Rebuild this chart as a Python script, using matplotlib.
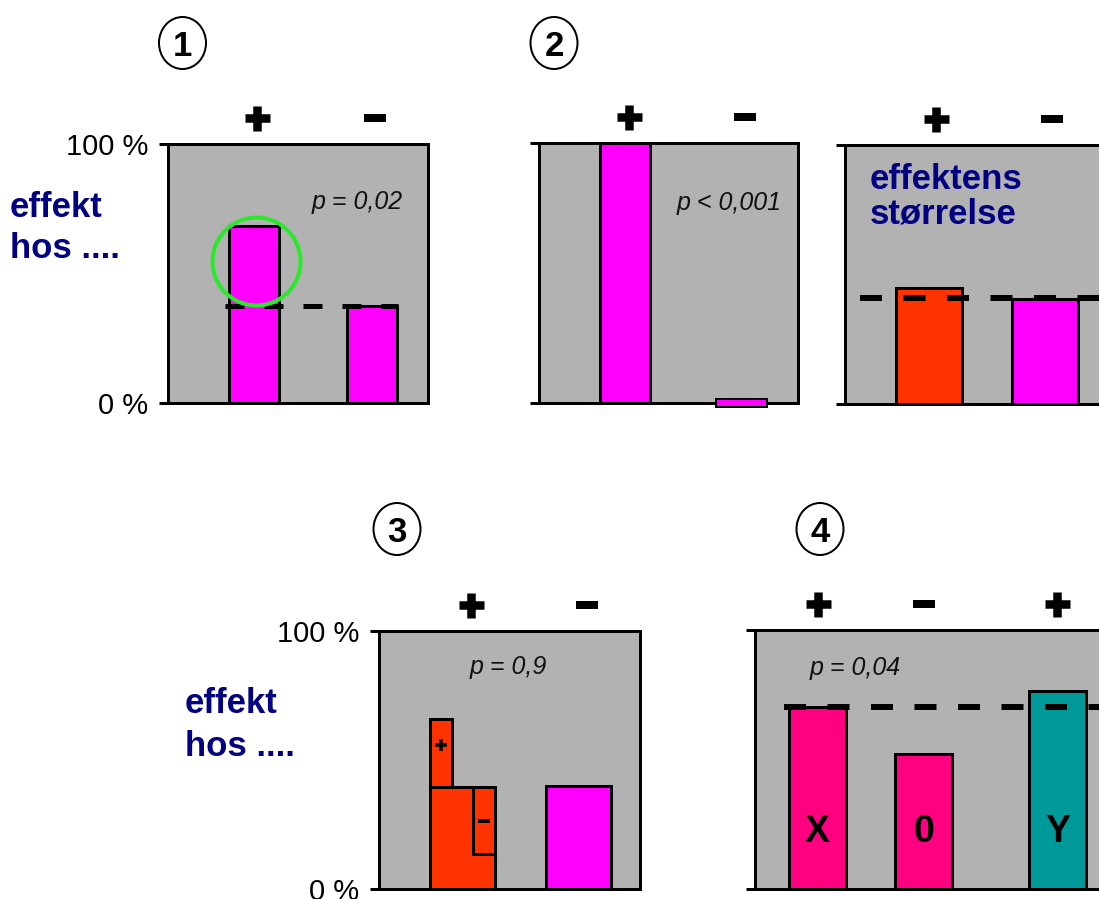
import matplotlib
matplotlib.use("Agg")
import matplotlib.pyplot as plt
from matplotlib.patches import Ellipse
from matplotlib.transforms import offset_copy

# --- data ------------------------------------------------------------
SIGNS = ["+", "-"]

P1_VALUES = [68.3, 37.5]
P1_REF = 37.5
P1_CIRCLE = 55
P1_P = "p = 0,02"

P2A_VALUES = [100, 1.5]
P2A_P = "p < 0,001"

P2B_VALUES = [44.8, 40.5]
P2B_REF = 41

P3_BASE = 39.5
P3_PLUS_TOP = 66
P3_MINUS_BOTTOM = 13.5
P3_OTHER = 40
P3_P = "p = 0,9"

P4_LABELS = ["X", "0", "Y"]
P4_SIGNS = ["+", "-", "+"]
P4_VALUES = [70.3, 52, 76.5]
P4_REF = 70.3
P4_P = "p = 0,04"

NUMBERS = ["1", "2", "3", "4"]
Y_LABELS = ["0 %", "100 %"]

# --- style -----------------------------------------------------------
GREY = "#b2b2b2"
MAGENTA = "#ff00ff"
ORANGE = "#ff3300"
PINK = "#ff0080"
TEAL = "#009999"
NAVY = "#000080"
GREEN = "#2ae82a"

W, H = 1099, 899
PT = 0.72  # points per pixel at dpi 100

plt.rcParams["font.family"] = ["Liberation Sans", "DejaVu Sans"]
plt.rcParams["lines.scale_dashes"] = False

fig = plt.figure(figsize=(W / 100, H / 100), dpi=100)


def fy(y):
    return 1 - y / H


def panel(left, top, right, bottom, xlim, labels=False):
    ax = fig.add_axes([left / W, 1 - bottom / H, (right - left) / W, (bottom - top) / H])
    ax.set_facecolor(GREY)
    ax.set_ylim(0, 100)
    ax.set_xlim(*xlim)
    for s in ax.spines.values():
        s.set_linewidth(3 * PT)
        s.set_color("black")
    ax.set_xticks([])
    ax.set_yticks([0, 100])
    ax.set_yticklabels(Y_LABELS if labels else ["", ""])
    ax.tick_params(axis="y", length=9 * PT, width=3 * PT, pad=8, labelsize=21)
    return ax


def bars(ax, xs, values, width, colors, lw=3, zorder=2, **kw):
    ax.bar(xs, values, width=width, color=colors, edgecolor="black",
           linewidth=lw * PT, zorder=zorder, clip_on=False, **kw)


def dashed(ax, y, x0, x1, on=22, off=21.5, lw=6):
    ax.plot([x0, x1], [y, y], color="black", lw=lw * PT,
            dashes=(on * PT, off * PT), dash_capstyle="butt", zorder=3)


def header(ax, xs, signs, dx=0, y=1.1):
    tr = offset_copy(ax.get_xaxis_transform(), fig=fig, x=dx, y=0, units="dots")
    for x, s in zip(xs, signs):
        if s == "+":
            ax.plot(x, y, marker="+", ms=25 * PT, mew=8.5 * PT, color="black",
                    transform=tr, clip_on=False)
        else:
            ax.plot(x, y, marker="_", ms=22 * PT, mew=8 * PT, color="black",
                    transform=tr, clip_on=False)


def circled(x, y, s):
    fig.add_artist(Ellipse((x / W, fy(y)), 47 / W, 52 / H, transform=fig.transFigure,
                           fill=False, edgecolor="black", lw=2 * PT))
    fig.text(x / W, fy(y + 13), s, ha="center", va="baseline",
             fontsize=25, fontweight="bold")


def navy_text(x, y, s):
    fig.text(x / W, fy(y), s, ha="left", va="baseline", fontsize=25,
             fontweight="bold", color=NAVY)


def p_text(x, y, s, ha):
    fig.text(x / W, fy(y), s, ha=ha, va="baseline", fontsize=18,
             style="italic", color="#111111")


# --- panel 1 ---------------------------------------------------------
ax1 = panel(168, 144, 428, 403, (-0.729, 1.475), labels=True)
bars(ax1, range(2), P1_VALUES, 0.424, MAGENTA)
dashed(ax1, P1_REF, -0.246, 1.22, on=19, off=20, lw=5)
header(ax1, range(2), SIGNS, dx=3)
ax1.plot(0, P1_CIRCLE, "o", ms=88 * PT, mfc="none", mec=GREEN, mew=4 * PT,
         zorder=4, clip_on=False,
         transform=offset_copy(ax1.transData, fig=fig, x=2, y=0, units="dots"))

# --- panel 2a --------------------------------------------------------
ax2 = panel(539, 143, 798, 403, (-0.738, 1.485))
bars(ax2, [0], P2A_VALUES[:1], 0.43, MAGENTA)
# the tiny bar straddles the base line
bars(ax2, [1], [2 * P2A_VALUES[1]], 0.43, MAGENTA, lw=2, zorder=4,
     bottom=-P2A_VALUES[1])
header(ax2, range(2), SIGNS, dx=4)

# --- panel 2b --------------------------------------------------------
ax2b = panel(845, 145, 1106, 404, (-0.724, 1.526))
bars(ax2b, range(2), P2B_VALUES, 0.57, [ORANGE, MAGENTA])
dashed(ax2b, P2B_REF, -0.595, 2.0)
header(ax2b, range(2), SIGNS, dx=7.5)

# --- panel 3 ---------------------------------------------------------
ax3 = panel(379, 631, 640, 889, (-0.717, 1.524), labels=True)
w3, sub = 0.558, 0.19
bars(ax3, range(2), [P3_BASE, P3_OTHER], w3, [ORANGE, MAGENTA])
bars(ax3, [-w3 / 2], [P3_PLUS_TOP - P3_BASE], sub, ORANGE,
     bottom=P3_BASE, align="edge")
bars(ax3, [w3 / 2 - sub], [P3_BASE - P3_MINUS_BOTTOM], sub, ORANGE,
     bottom=P3_MINUS_BOTTOM, align="edge")
ax3.plot(-w3 / 2 + sub / 2, P3_BASE + 0.62 * (P3_PLUS_TOP - P3_BASE), marker="+",
         ms=12 * PT, mew=3.5 * PT, color="black", zorder=4)
ax3.plot(w3 / 2 - sub / 2, (P3_BASE + P3_MINUS_BOTTOM) / 2, marker="_",
         ms=12 * PT, mew=4 * PT, color="black", zorder=4)
header(ax3, range(2), SIGNS, dx=8.5)

# --- panel 4 ---------------------------------------------------------
GROUP_GAP = 0.264
x4 = [0, 1, 2 + GROUP_GAP]
ax4 = panel(755, 630, 1120, 889, (-0.59, 2.854))
bars(ax4, x4, P4_VALUES, 0.54, [PINK, PINK, TEAL])
dashed(ax4, P4_REF, -0.316, 3.0)
header(ax4, x4, P4_SIGNS)
for x, lab in zip(x4, P4_LABELS):
    ax4.text(x, 18.1, lab, ha="center", va="baseline", fontsize=27,
             fontweight="bold", zorder=5)

# --- text ------------------------------------------------------------
for (x, y), n in zip([(182.5, 43), (554, 43), (397, 529), (820, 529)], NUMBERS):
    circled(x, y, n)

navy_text(10, 217, "effekt")
navy_text(10, 258, "hos ....")
navy_text(185, 713, "effekt")
navy_text(185, 756, "hos ....")
navy_text(870, 189, "effektens")
navy_text(870, 224, "størrelse")

p_text(403, 209, P1_P, "right")
p_text(782, 210, P2A_P, "right")
p_text(508, 674, P3_P, "center")
p_text(810, 675, P4_P, "left")

fig.savefig("out.png", dpi=100)
